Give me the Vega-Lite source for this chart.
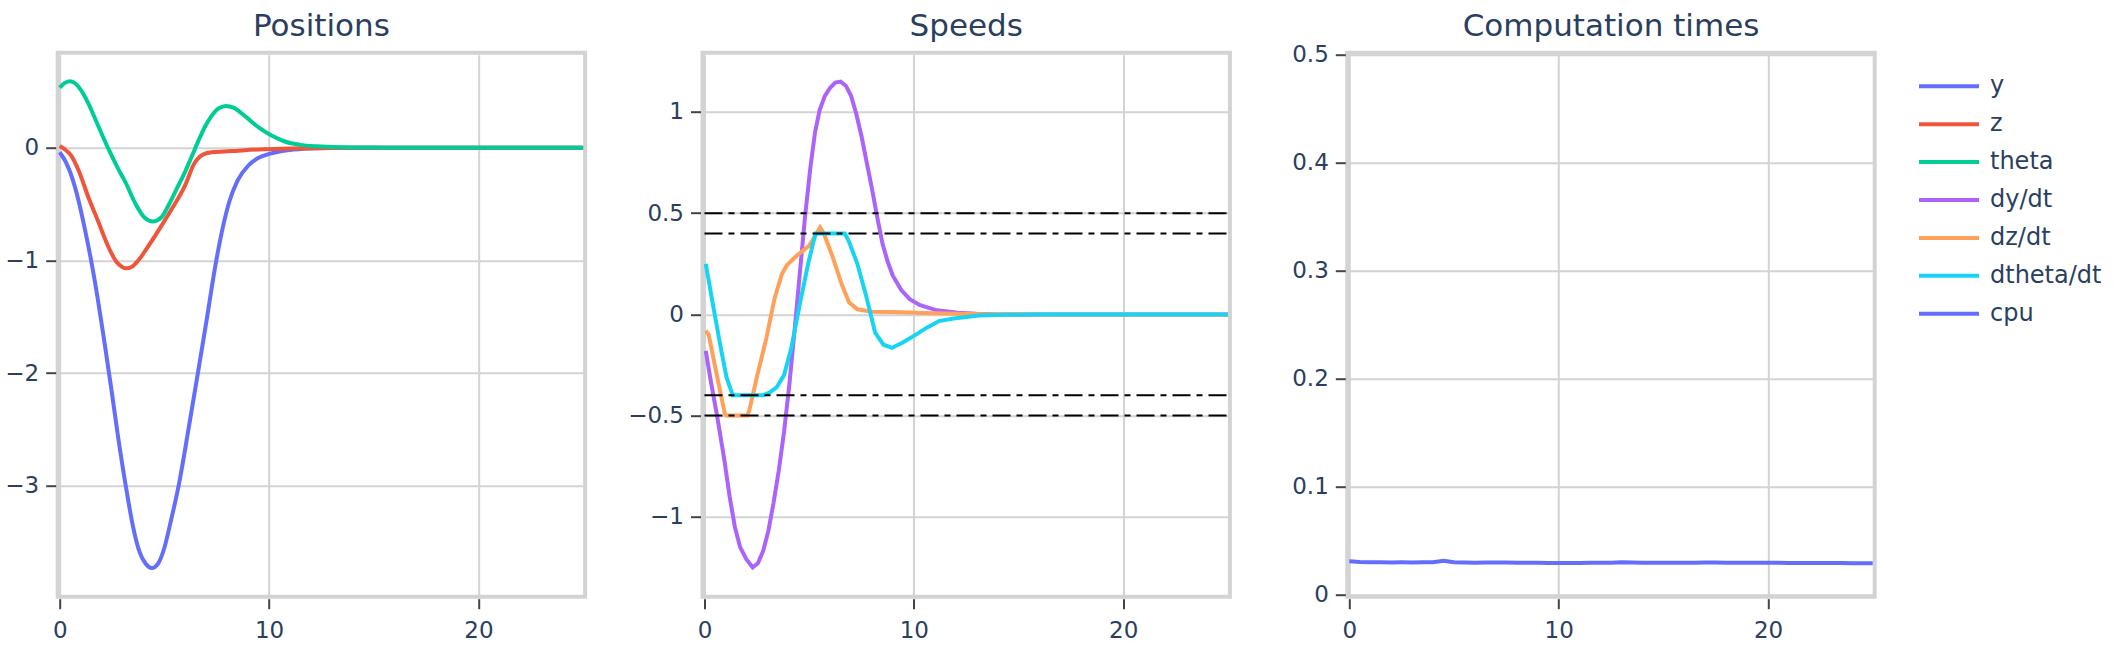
{
  "$schema": "https://vega.github.io/schema/vega-lite/v6.json",
  "background": "white",
  "autosize": {"type": "none"},
  "padding": {"left": 57.7, "top": 52.7, "right": 2056.3, "bottom": 607.3},
  "datasets": {
    "pos": [
      {"s":"y","t":0,"v":-0.04},{"s":"y","t":0.3,"v":-0.13},{"s":"y","t":0.6,"v":-0.27},{"s":"y","t":0.9,"v":-0.47},{"s":"y","t":1.2,"v":-0.72},{"s":"y","t":1.5,"v":-1.0},{"s":"y","t":1.8,"v":-1.32},{"s":"y","t":2.1,"v":-1.68},{"s":"y","t":2.45,"v":-2.12},{"s":"y","t":2.8,"v":-2.58},{"s":"y","t":3.2,"v":-3.05},{"s":"y","t":3.5,"v":-3.36},{"s":"y","t":3.8,"v":-3.58},{"s":"y","t":4.1,"v":-3.69},{"s":"y","t":4.4,"v":-3.73},{"s":"y","t":4.7,"v":-3.69},{"s":"y","t":5.0,"v":-3.55},{"s":"y","t":5.3,"v":-3.32},{"s":"y","t":5.7,"v":-2.98},{"s":"y","t":6.15,"v":-2.5},{"s":"y","t":6.6,"v":-2.0},{"s":"y","t":7.0,"v":-1.55},{"s":"y","t":7.45,"v":-1.03},{"s":"y","t":7.8,"v":-0.7},{"s":"y","t":8.1,"v":-0.48},{"s":"y","t":8.5,"v":-0.29},{"s":"y","t":9.0,"v":-0.16},{"s":"y","t":9.5,"v":-0.09},{"s":"y","t":10.0,"v":-0.055},{"s":"y","t":10.5,"v":-0.033},{"s":"y","t":11.0,"v":-0.02},{"s":"y","t":12.0,"v":-0.007},{"s":"y","t":13.0,"v":-0.002},{"s":"y","t":14,"v":0},{"s":"y","t":16,"v":0},{"s":"y","t":20,"v":0},{"s":"y","t":25,"v":0},
      {"s":"z","t":0,"v":0.015},{"s":"z","t":0.25,"v":-0.015},{"s":"z","t":0.55,"v":-0.07},{"s":"z","t":0.9,"v":-0.2},{"s":"z","t":1.35,"v":-0.43},{"s":"z","t":1.85,"v":-0.66},{"s":"z","t":2.3,"v":-0.87},{"s":"z","t":2.7,"v":-1.01},{"s":"z","t":3.0,"v":-1.06},{"s":"z","t":3.2,"v":-1.07},{"s":"z","t":3.5,"v":-1.05},{"s":"z","t":3.8,"v":-0.99},{"s":"z","t":4.1,"v":-0.91},{"s":"z","t":4.7,"v":-0.74},{"s":"z","t":5.3,"v":-0.56},{"s":"z","t":6.0,"v":-0.33},{"s":"z","t":6.4,"v":-0.15},{"s":"z","t":6.8,"v":-0.065},{"s":"z","t":7.25,"v":-0.04},{"s":"z","t":8.2,"v":-0.03},{"s":"z","t":9.5,"v":-0.015},{"s":"z","t":11,"v":-0.008},{"s":"z","t":13,"v":-0.002},{"s":"z","t":14,"v":0},{"s":"z","t":16,"v":0},{"s":"z","t":20,"v":0},{"s":"z","t":25,"v":0},
      {"s":"theta","t":0,"v":0.533},{"s":"theta","t":0.25,"v":0.575},{"s":"theta","t":0.5,"v":0.59},{"s":"theta","t":0.75,"v":0.57},{"s":"theta","t":1.0,"v":0.515},{"s":"theta","t":1.35,"v":0.4},{"s":"theta","t":1.8,"v":0.21},{"s":"theta","t":2.3,"v":0.0},{"s":"theta","t":2.8,"v":-0.19},{"s":"theta","t":3.15,"v":-0.31},{"s":"theta","t":3.6,"v":-0.49},{"s":"theta","t":4.05,"v":-0.62},{"s":"theta","t":4.45,"v":-0.655},{"s":"theta","t":4.85,"v":-0.62},{"s":"theta","t":5.2,"v":-0.51},{"s":"theta","t":5.6,"v":-0.36},{"s":"theta","t":5.95,"v":-0.23},{"s":"theta","t":6.3,"v":-0.08},{"s":"theta","t":6.6,"v":0.05},{"s":"theta","t":6.95,"v":0.19},{"s":"theta","t":7.25,"v":0.28},{"s":"theta","t":7.6,"v":0.35},{"s":"theta","t":7.95,"v":0.37},{"s":"theta","t":8.3,"v":0.355},{"s":"theta","t":8.85,"v":0.28},{"s":"theta","t":9.5,"v":0.18},{"s":"theta","t":10.1,"v":0.11},{"s":"theta","t":10.75,"v":0.055},{"s":"theta","t":11.5,"v":0.025},{"s":"theta","t":12.3,"v":0.012},{"s":"theta","t":13.5,"v":0.004},{"s":"theta","t":15,"v":0.001},{"s":"theta","t":16,"v":0},{"s":"theta","t":20,"v":0},{"s":"theta","t":25,"v":0}
    ],
    "spd": [
      {"s":"dy/dt","t":0.06,"v":-0.18},{"s":"dy/dt","t":0.3,"v":-0.33},{"s":"dy/dt","t":0.6,"v":-0.5},{"s":"dy/dt","t":0.95,"v":-0.72},{"s":"dy/dt","t":1.2,"v":-0.9},{"s":"dy/dt","t":1.45,"v":-1.05},{"s":"dy/dt","t":1.7,"v":-1.15},{"s":"dy/dt","t":2.0,"v":-1.21},{"s":"dy/dt","t":2.3,"v":-1.25},{"s":"dy/dt","t":2.55,"v":-1.23},{"s":"dy/dt","t":2.8,"v":-1.17},{"s":"dy/dt","t":3.05,"v":-1.07},{"s":"dy/dt","t":3.3,"v":-0.93},{"s":"dy/dt","t":3.55,"v":-0.77},{"s":"dy/dt","t":3.8,"v":-0.58},{"s":"dy/dt","t":4.05,"v":-0.35},{"s":"dy/dt","t":4.3,"v":-0.08},{"s":"dy/dt","t":4.55,"v":0.2},{"s":"dy/dt","t":4.8,"v":0.48},{"s":"dy/dt","t":5.05,"v":0.72},{"s":"dy/dt","t":5.28,"v":0.9},{"s":"dy/dt","t":5.5,"v":1.01},{"s":"dy/dt","t":5.75,"v":1.08},{"s":"dy/dt","t":6.0,"v":1.12},{"s":"dy/dt","t":6.25,"v":1.145},{"s":"dy/dt","t":6.5,"v":1.15},{"s":"dy/dt","t":6.75,"v":1.13},{"s":"dy/dt","t":7.0,"v":1.08},{"s":"dy/dt","t":7.25,"v":0.99},{"s":"dy/dt","t":7.5,"v":0.88},{"s":"dy/dt","t":7.75,"v":0.75},{"s":"dy/dt","t":8.0,"v":0.62},{"s":"dy/dt","t":8.25,"v":0.48},{"s":"dy/dt","t":8.5,"v":0.35},{"s":"dy/dt","t":8.75,"v":0.26},{"s":"dy/dt","t":9.0,"v":0.19},{"s":"dy/dt","t":9.4,"v":0.12},{"s":"dy/dt","t":9.8,"v":0.075},{"s":"dy/dt","t":10.3,"v":0.045},{"s":"dy/dt","t":11.1,"v":0.02},{"s":"dy/dt","t":12.1,"v":0.008},{"s":"dy/dt","t":13,"v":0.003},{"s":"dy/dt","t":14,"v":0},{"s":"dy/dt","t":16,"v":0},{"s":"dy/dt","t":20,"v":0},{"s":"dy/dt","t":25,"v":0},
      {"s":"dz/dt","t":0.06,"v":-0.08},{"s":"dz/dt","t":0.2,"v":-0.1},{"s":"dz/dt","t":0.55,"v":-0.28},{"s":"dz/dt","t":0.97,"v":-0.49},{"s":"dz/dt","t":1.05,"v":-0.5},{"s":"dz/dt","t":2.05,"v":-0.5},{"s":"dz/dt","t":2.15,"v":-0.47},{"s":"dz/dt","t":2.5,"v":-0.31},{"s":"dz/dt","t":2.95,"v":-0.12},{"s":"dz/dt","t":3.35,"v":0.08},{"s":"dz/dt","t":3.7,"v":0.2},{"s":"dz/dt","t":3.95,"v":0.245},{"s":"dz/dt","t":4.4,"v":0.29},{"s":"dz/dt","t":5.0,"v":0.34},{"s":"dz/dt","t":5.3,"v":0.39},{"s":"dz/dt","t":5.52,"v":0.43},{"s":"dz/dt","t":5.7,"v":0.4},{"s":"dz/dt","t":6.1,"v":0.29},{"s":"dz/dt","t":6.55,"v":0.15},{"s":"dz/dt","t":6.9,"v":0.06},{"s":"dz/dt","t":7.3,"v":0.025},{"s":"dz/dt","t":8.0,"v":0.013},{"s":"dz/dt","t":9.0,"v":0.012},{"s":"dz/dt","t":10.5,"v":0.007},{"s":"dz/dt","t":12,"v":0.003},{"s":"dz/dt","t":13.5,"v":0.001},{"s":"dz/dt","t":16,"v":0},{"s":"dz/dt","t":20,"v":0},{"s":"dz/dt","t":25,"v":0},
      {"s":"dtheta/dt","t":0.06,"v":0.25},{"s":"dtheta/dt","t":0.4,"v":0.05},{"s":"dtheta/dt","t":0.75,"v":-0.15},{"s":"dtheta/dt","t":1.05,"v":-0.31},{"s":"dtheta/dt","t":1.35,"v":-0.4},{"s":"dtheta/dt","t":2.8,"v":-0.4},{"s":"dtheta/dt","t":3.1,"v":-0.387},{"s":"dtheta/dt","t":3.45,"v":-0.36},{"s":"dtheta/dt","t":3.8,"v":-0.3},{"s":"dtheta/dt","t":4.15,"v":-0.165},{"s":"dtheta/dt","t":4.55,"v":0.05},{"s":"dtheta/dt","t":4.95,"v":0.25},{"s":"dtheta/dt","t":5.3,"v":0.4},{"s":"dtheta/dt","t":6.7,"v":0.4},{"s":"dtheta/dt","t":6.9,"v":0.36},{"s":"dtheta/dt","t":7.3,"v":0.25},{"s":"dtheta/dt","t":7.7,"v":0.1},{"s":"dtheta/dt","t":8.15,"v":-0.09},{"s":"dtheta/dt","t":8.55,"v":-0.15},{"s":"dtheta/dt","t":8.95,"v":-0.165},{"s":"dtheta/dt","t":9.45,"v":-0.14},{"s":"dtheta/dt","t":10.1,"v":-0.1},{"s":"dtheta/dt","t":10.6,"v":-0.067},{"s":"dtheta/dt","t":11.2,"v":-0.033},{"s":"dtheta/dt","t":11.9,"v":-0.02},{"s":"dtheta/dt","t":13.1,"v":-0.006},{"s":"dtheta/dt","t":14.5,"v":-0.002},{"s":"dtheta/dt","t":16,"v":0},{"s":"dtheta/dt","t":20,"v":0},{"s":"dtheta/dt","t":25,"v":0}
    ],
    "lims": [{"lim":0.5},{"lim":0.4},{"lim":-0.4},{"lim":-0.5}],
    "cpu": [
      {"s":"cpu","t":0,"v":0.0310},{"s":"cpu","t":0.5,"v":0.0302},{"s":"cpu","t":1,"v":0.0300},{"s":"cpu","t":1.5,"v":0.0301},{"s":"cpu","t":2,"v":0.0299},{"s":"cpu","t":2.5,"v":0.0300},{"s":"cpu","t":3,"v":0.0299},{"s":"cpu","t":3.5,"v":0.0300},{"s":"cpu","t":4,"v":0.0301},{"s":"cpu","t":4.5,"v":0.0314},{"s":"cpu","t":5,"v":0.0300},{"s":"cpu","t":5.5,"v":0.0298},{"s":"cpu","t":6,"v":0.0297},{"s":"cpu","t":6.5,"v":0.0298},{"s":"cpu","t":7,"v":0.0299},{"s":"cpu","t":7.5,"v":0.0298},{"s":"cpu","t":8,"v":0.0297},{"s":"cpu","t":8.5,"v":0.0296},{"s":"cpu","t":9,"v":0.0295},{"s":"cpu","t":9.5,"v":0.0294},{"s":"cpu","t":10,"v":0.0293},{"s":"cpu","t":10.5,"v":0.0294},{"s":"cpu","t":11,"v":0.0294},{"s":"cpu","t":11.5,"v":0.0295},{"s":"cpu","t":12,"v":0.0295},{"s":"cpu","t":12.5,"v":0.0297},{"s":"cpu","t":13,"v":0.0301},{"s":"cpu","t":13.5,"v":0.0298},{"s":"cpu","t":14,"v":0.0297},{"s":"cpu","t":14.5,"v":0.0296},{"s":"cpu","t":15,"v":0.0296},{"s":"cpu","t":15.5,"v":0.0295},{"s":"cpu","t":16,"v":0.0295},{"s":"cpu","t":16.5,"v":0.0296},{"s":"cpu","t":17,"v":0.0298},{"s":"cpu","t":17.5,"v":0.0299},{"s":"cpu","t":18,"v":0.0297},{"s":"cpu","t":18.5,"v":0.0296},{"s":"cpu","t":19,"v":0.0296},{"s":"cpu","t":19.5,"v":0.0295},{"s":"cpu","t":20,"v":0.0296},{"s":"cpu","t":20.5,"v":0.0295},{"s":"cpu","t":21,"v":0.0294},{"s":"cpu","t":21.5,"v":0.0294},{"s":"cpu","t":22,"v":0.0294},{"s":"cpu","t":22.5,"v":0.0293},{"s":"cpu","t":23,"v":0.0293},{"s":"cpu","t":23.5,"v":0.0293},{"s":"cpu","t":24,"v":0.0292},{"s":"cpu","t":24.5,"v":0.0292},{"s":"cpu","t":25,"v":0.0292}
    ]
  },
  "spacing": 116.8,
  "bounds": "flush",
  "resolve": {"scale": {"color": "shared"}, "legend": {"color": "shared"}},
  "hconcat": [
    {
      "title": {"text": "Positions", "offset": 10},
      "width": 527.4,
      "height": 544,
      "data": {"name": "pos"},
      "mark": {"type": "line", "strokeWidth": 4, "interpolate": "monotone"},
      "encoding": {
        "x": {"field": "t", "type": "quantitative", "scale": {"domain": [-0.0955, 25.0955], "nice": false, "zero": false}, "axis": {"values": [0, 10, 20], "format": "d"}},
        "y": {"field": "v", "type": "quantitative", "scale": {"domain": [-3.984, 0.843], "nice": false, "zero": false}, "axis": {"values": [-3, -2, -1, 0], "format": "~g"}},
        "color": {"field": "s", "type": "nominal", "scale": {"domain": ["y","z","theta","dy/dt","dz/dt","dtheta/dt","cpu"], "range": ["#636efa","#EF553B","#00cc96","#ab63fa","#FFA15A","#19d3f3","#636efa"]}}
      }
    },
    {
      "title": {"text": "Speeds", "offset": 10},
      "width": 527.4,
      "height": 544,
      "layer": [
        {
          "data": {"name": "spd"},
          "mark": {"type": "line", "strokeWidth": 4},
          "encoding": {
            "x": {"field": "t", "type": "quantitative", "scale": {"domain": [-0.0955, 25.0955], "nice": false, "zero": false}, "axis": {"values": [0, 10, 20], "format": "d"}},
            "y": {"field": "v", "type": "quantitative", "scale": {"domain": [-1.395, 1.293], "nice": false, "zero": false}, "axis": {"values": [-1, -0.5, 0, 0.5, 1], "format": "~g"}},
            "color": {"field": "s", "type": "nominal", "scale": {"domain": ["y","z","theta","dy/dt","dz/dt","dtheta/dt","cpu"], "range": ["#636efa","#EF553B","#00cc96","#ab63fa","#FFA15A","#19d3f3","#636efa"]}}
          }
        },
        {
          "data": {"name": "lims"},
          "mark": {"type": "rule", "color": "black", "strokeWidth": 2, "strokeDash": [18, 6, 6, 6]},
          "encoding": {
            "y": {"field": "lim", "type": "quantitative"},
            "x": {"datum": 0},
            "x2": {"datum": 25}
          }
        }
      ]
    },
    {
      "title": {"text": "Computation times", "offset": 1},
      "width": 527.4,
      "height": 544,
      "data": {"name": "cpu"},
      "mark": {"type": "line", "strokeWidth": 4},
      "encoding": {
        "x": {"field": "t", "type": "quantitative", "scale": {"domain": [-0.0955, 25.0955], "nice": false, "zero": false}, "axis": {"values": [0, 10, 20], "format": "d"}},
        "y": {"field": "v", "type": "quantitative", "scale": {"domain": [-0.00185, 0.50185], "nice": false, "zero": false}, "axis": {"values": [0, 0.1, 0.2, 0.3, 0.4, 0.5], "format": "~g"}},
        "color": {"field": "s", "type": "nominal", "scale": {"domain": ["y","z","theta","dy/dt","dz/dt","dtheta/dt","cpu"], "range": ["#636efa","#EF553B","#00cc96","#ab63fa","#FFA15A","#19d3f3","#636efa"]}}
      }
    }
  ],
  "config": {
    "font": "DejaVu Sans",
    "view": {"stroke": "#d3d3d3", "strokeWidth": 4},
    "axis": {
      "title": null,
      "domain": false,
      "grid": true,
      "gridColor": "#d3d3d3",
      "gridWidth": 2,
      "ticks": true,
      "tickColor": "#444444",
      "tickWidth": 2,
      "tickSize": 10,
      "offset": 2,
      "labelFont": "DejaVu Sans",
      "labelFontSize": 23,
      "labelColor": "#2a3f5f",
      "labelFlush": false,
      "labelOverlap": false
    },
    "axisX": {"labelPadding": 11},
    "axisY": {"labelPadding": 7},
    "title": {"font": "DejaVu Sans", "fontSize": 31, "fontWeight": "normal", "color": "#2a3f5f", "baseline": "alphabetic", "anchor": "middle"},
    "legend": {
      "orient": "none",
      "legendX": 1877.3,
      "legendY": 19.6,
      "title": null,
      "symbolType": "M-2.5,0H2.5",
      "symbolSize": 576,
      "symbolStrokeWidth": 4,
      "labelFont": "DejaVu Sans",
      "labelFontSize": 24,
      "labelColor": "#2a3f5f",
      "labelOffset": 27,
      "rowPadding": 11.9,
      "padding": 0,
      "labelLimit": 300
    }
  }
}
